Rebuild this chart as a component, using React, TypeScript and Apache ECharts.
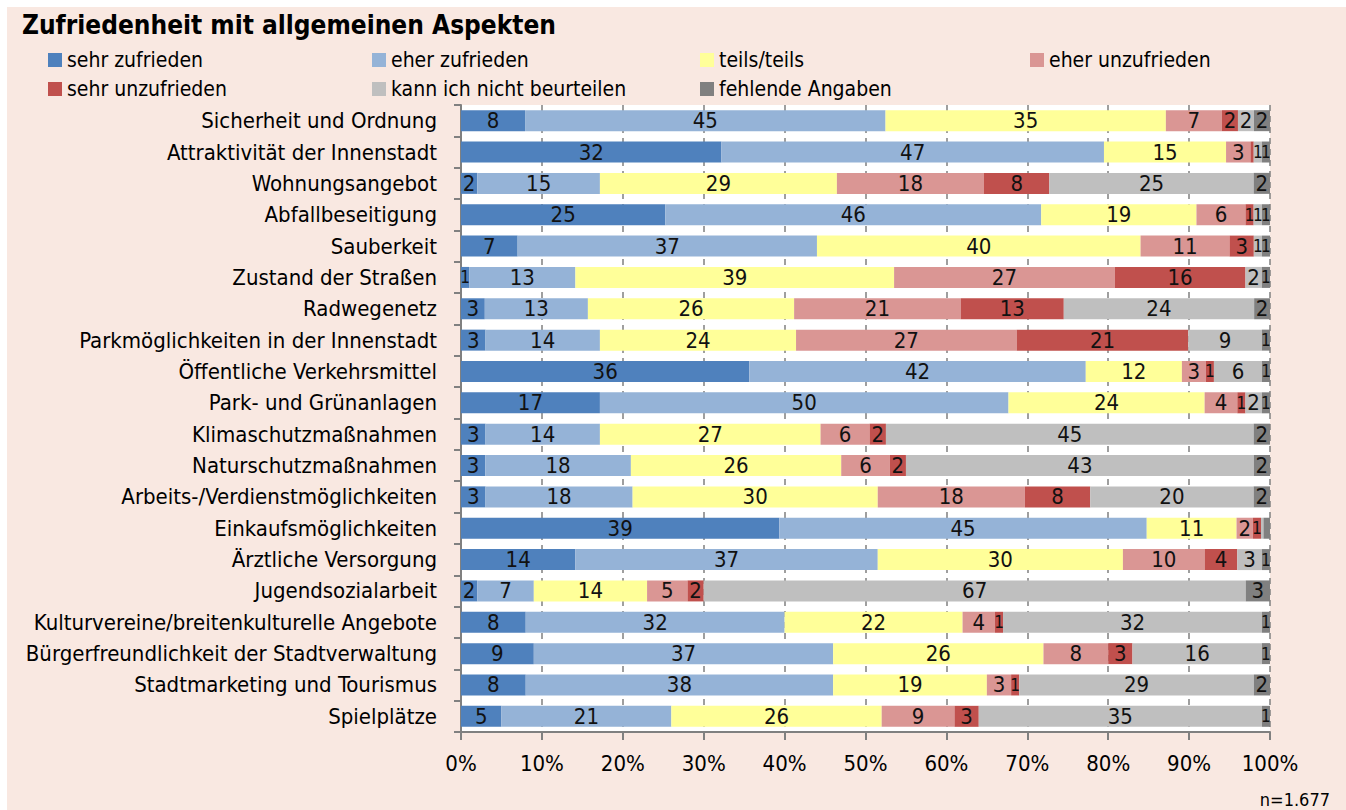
import React, { useEffect, useRef } from "react";
import * as echarts from "echarts";

const categories = [
  "Sicherheit und Ordnung",
  "Attraktivität der Innenstadt",
  "Wohnungsangebot",
  "Abfallbeseitigung",
  "Sauberkeit",
  "Zustand der Straßen",
  "Radwegenetz",
  "Parkmöglichkeiten in der Innenstadt",
  "Öffentliche Verkehrsmittel",
  "Park- und Grünanlagen",
  "Klimaschutzmaßnahmen",
  "Naturschutzmaßnahmen",
  "Arbeits-/Verdienstmöglichkeiten",
  "Einkaufsmöglichkeiten",
  "Ärztliche Versorgung",
  "Jugendsozialarbeit",
  "Kulturvereine/breitenkulturelle Angebote",
  "Bürgerfreundlichkeit der Stadtverwaltung",
  "Stadtmarketing und Tourismus",
  "Spielplätze",
];

const sehrZufrieden = [8, 32, 2, 25, 7, 1, 3, 3, 36, 17, 3, 3, 3, 39, 14, 2, 8, 9, 8, 5];
const eherZufrieden = [45, 47, 15, 46, 37, 13, 13, 14, 42, 50, 14, 18, 18, 45, 37, 7, 32, 37, 38, 21];
const teilsTeils = [35, 15, 29, 19, 40, 39, 26, 24, 12, 24, 27, 26, 30, 11, 30, 14, 22, 26, 19, 26];
const eherUnzufrieden = [7, 3, 18, 6, 11, 27, 21, 27, 3, 4, 6, 6, 18, 2, 10, 5, 4, 8, 3, 9];
const sehrUnzufrieden = [2, 0.4, 8, 1, 3, 16, 13, 21, 1, 1, 2, 2, 8, 1, 4, 2, 1, 3, 1, 3];
const kannNicht = [2, 1, 25, 1, 1, 2, 24, 9, 6, 2, 45, 43, 20, 0.3, 3, 67, 32, 16, 29, 35];
const fehlend = [2, 1, 2, 1, 1, 1, 2, 1, 1, 1, 2, 2, 2, 0.8, 1, 3, 1, 1, 2, 1];

const seriesNames = [
  "sehr zufrieden",
  "eher zufrieden",
  "teils/teils",
  "eher unzufrieden",
  "sehr unzufrieden",
  "kann ich nicht beurteilen",
  "fehlende Angaben",
];
const seriesValues = [
  sehrZufrieden,
  eherZufrieden,
  teilsTeils,
  eherUnzufrieden,
  sehrUnzufrieden,
  kannNicht,
  fehlend,
];
const colors = ["#4F81BD", "#95B3D7", "#FFFF99", "#DA9694", "#C0504D", "#BFBFBF", "#808080"];

const xTicks = [0, 10, 20, 30, 40, 50, 60, 70, 80, 90, 100];

const FONT = "'DejaVu Sans Condensed', 'Liberation Sans Narrow', sans-serif";

// legend placement: [name index, left, top]
const legendPos: [number, number, number][] = [
  [0, 48, 49],
  [1, 372, 49],
  [2, 700, 49],
  [3, 1030, 49],
  [4, 48, 78],
  [5, 372, 78],
  [6, 700, 78],
];

export default function App() {
  const ref = useRef<HTMLDivElement>(null);
  useEffect(() => {
    if (!ref.current) return;
    const chart = echarts.init(ref.current, undefined, { renderer: "svg" });
    const rowSums = categories.map((_, i) =>
      seriesValues.reduce((s, arr) => s + arr[i], 0)
    );
    const series = seriesNames.map((name, si) => ({
      name,
      type: "bar",
      stack: "total",
      barWidth: 21,
      itemStyle: { color: colors[si] },
      label: {
        show: true,
        position: "inside",
        color: "#111",
        fontFamily: FONT,
        fontSize: 22,
        formatter: (p: any) => {
          const raw = p.data.raw;
          return raw < 1 ? "" : String(Math.round(raw));
        },
      },
      data: seriesValues[si].map((v, i) => {
        const pct = (v / rowSums[i]) * 100;
        const item: any = { value: pct, raw: v };
        if (pct < 1.6) item.label = { fontSize: 17 };
        return item;
      }),
    }));

    chart.setOption({
      animation: false,
      backgroundColor: "#ffffff",
      title: {
        text: "Zufriedenheit mit allgemeinen Aspekten",
        left: 22,
        top: 12,
        padding: 0,
        textStyle: { fontFamily: FONT, fontSize: 26, fontWeight: "bold", color: "#000" },
      },
      legend: legendPos.map(([idx, left, top]) => ({
        data: [seriesNames[idx]],
        left,
        top,
        padding: 0,
        icon: "rect",
        itemWidth: 14,
        itemHeight: 14,
        selectedMode: false,
        textStyle: { fontFamily: FONT, fontSize: 21, color: "#000", lineHeight: 22 },
      })),
      grid: {
        left: 461,
        right: 76,
        top: 105,
        bottom: 78,
        show: true,
        backgroundColor: "#ffffff",
        borderWidth: 0,
        containLabel: false,
        outerBoundsMode: "none",
      },
      xAxis: {
        type: "value",
        min: 0,
        max: 100,
        interval: 10,
        axisLine: { show: true, lineStyle: { color: "#808080", width: 2 } },
        axisTick: { show: true, length: 8, lineStyle: { color: "#808080", width: 2 } },
        splitLine: { show: true, lineStyle: { color: "#808080", width: 1.5, type: [6, 5] } },
        axisLabel: {
          formatter: (v: number) => (xTicks.includes(v) ? v + "%" : ""),
          fontFamily: FONT,
          fontSize: 22,
          color: "#000",
          margin: 20,
        },
      },
      yAxis: {
        type: "category",
        inverse: true,
        data: categories,
        axisLine: { show: true, lineStyle: { color: "#808080", width: 2 } },
        axisTick: { show: true, length: 7, lineStyle: { color: "#808080", width: 2 } },
        axisLabel: { interval: 0, fontFamily: FONT, fontSize: 22, color: "#000", margin: 24 },
      },
      graphic: [
        {
          type: "rect",
          z: -10,
          silent: true,
          shape: { x: 7, y: 7, width: 1346, height: 810 },
          style: { fill: "#F9E8E1" },
        },
        {
          type: "text",
          right: 16,
          top: 790,
          style: {
            text: "n=1.677",
            fontFamily: FONT,
            fontSize: 18,
            fill: "#000",
          },
        },
      ],
      series,
    });
    return () => chart.dispose();
  }, []);
  return (
    <div
      ref={ref}
      style={{ position: "absolute", left: 0, top: 0, width: 1346, height: 810 }}
    />
  );
}
